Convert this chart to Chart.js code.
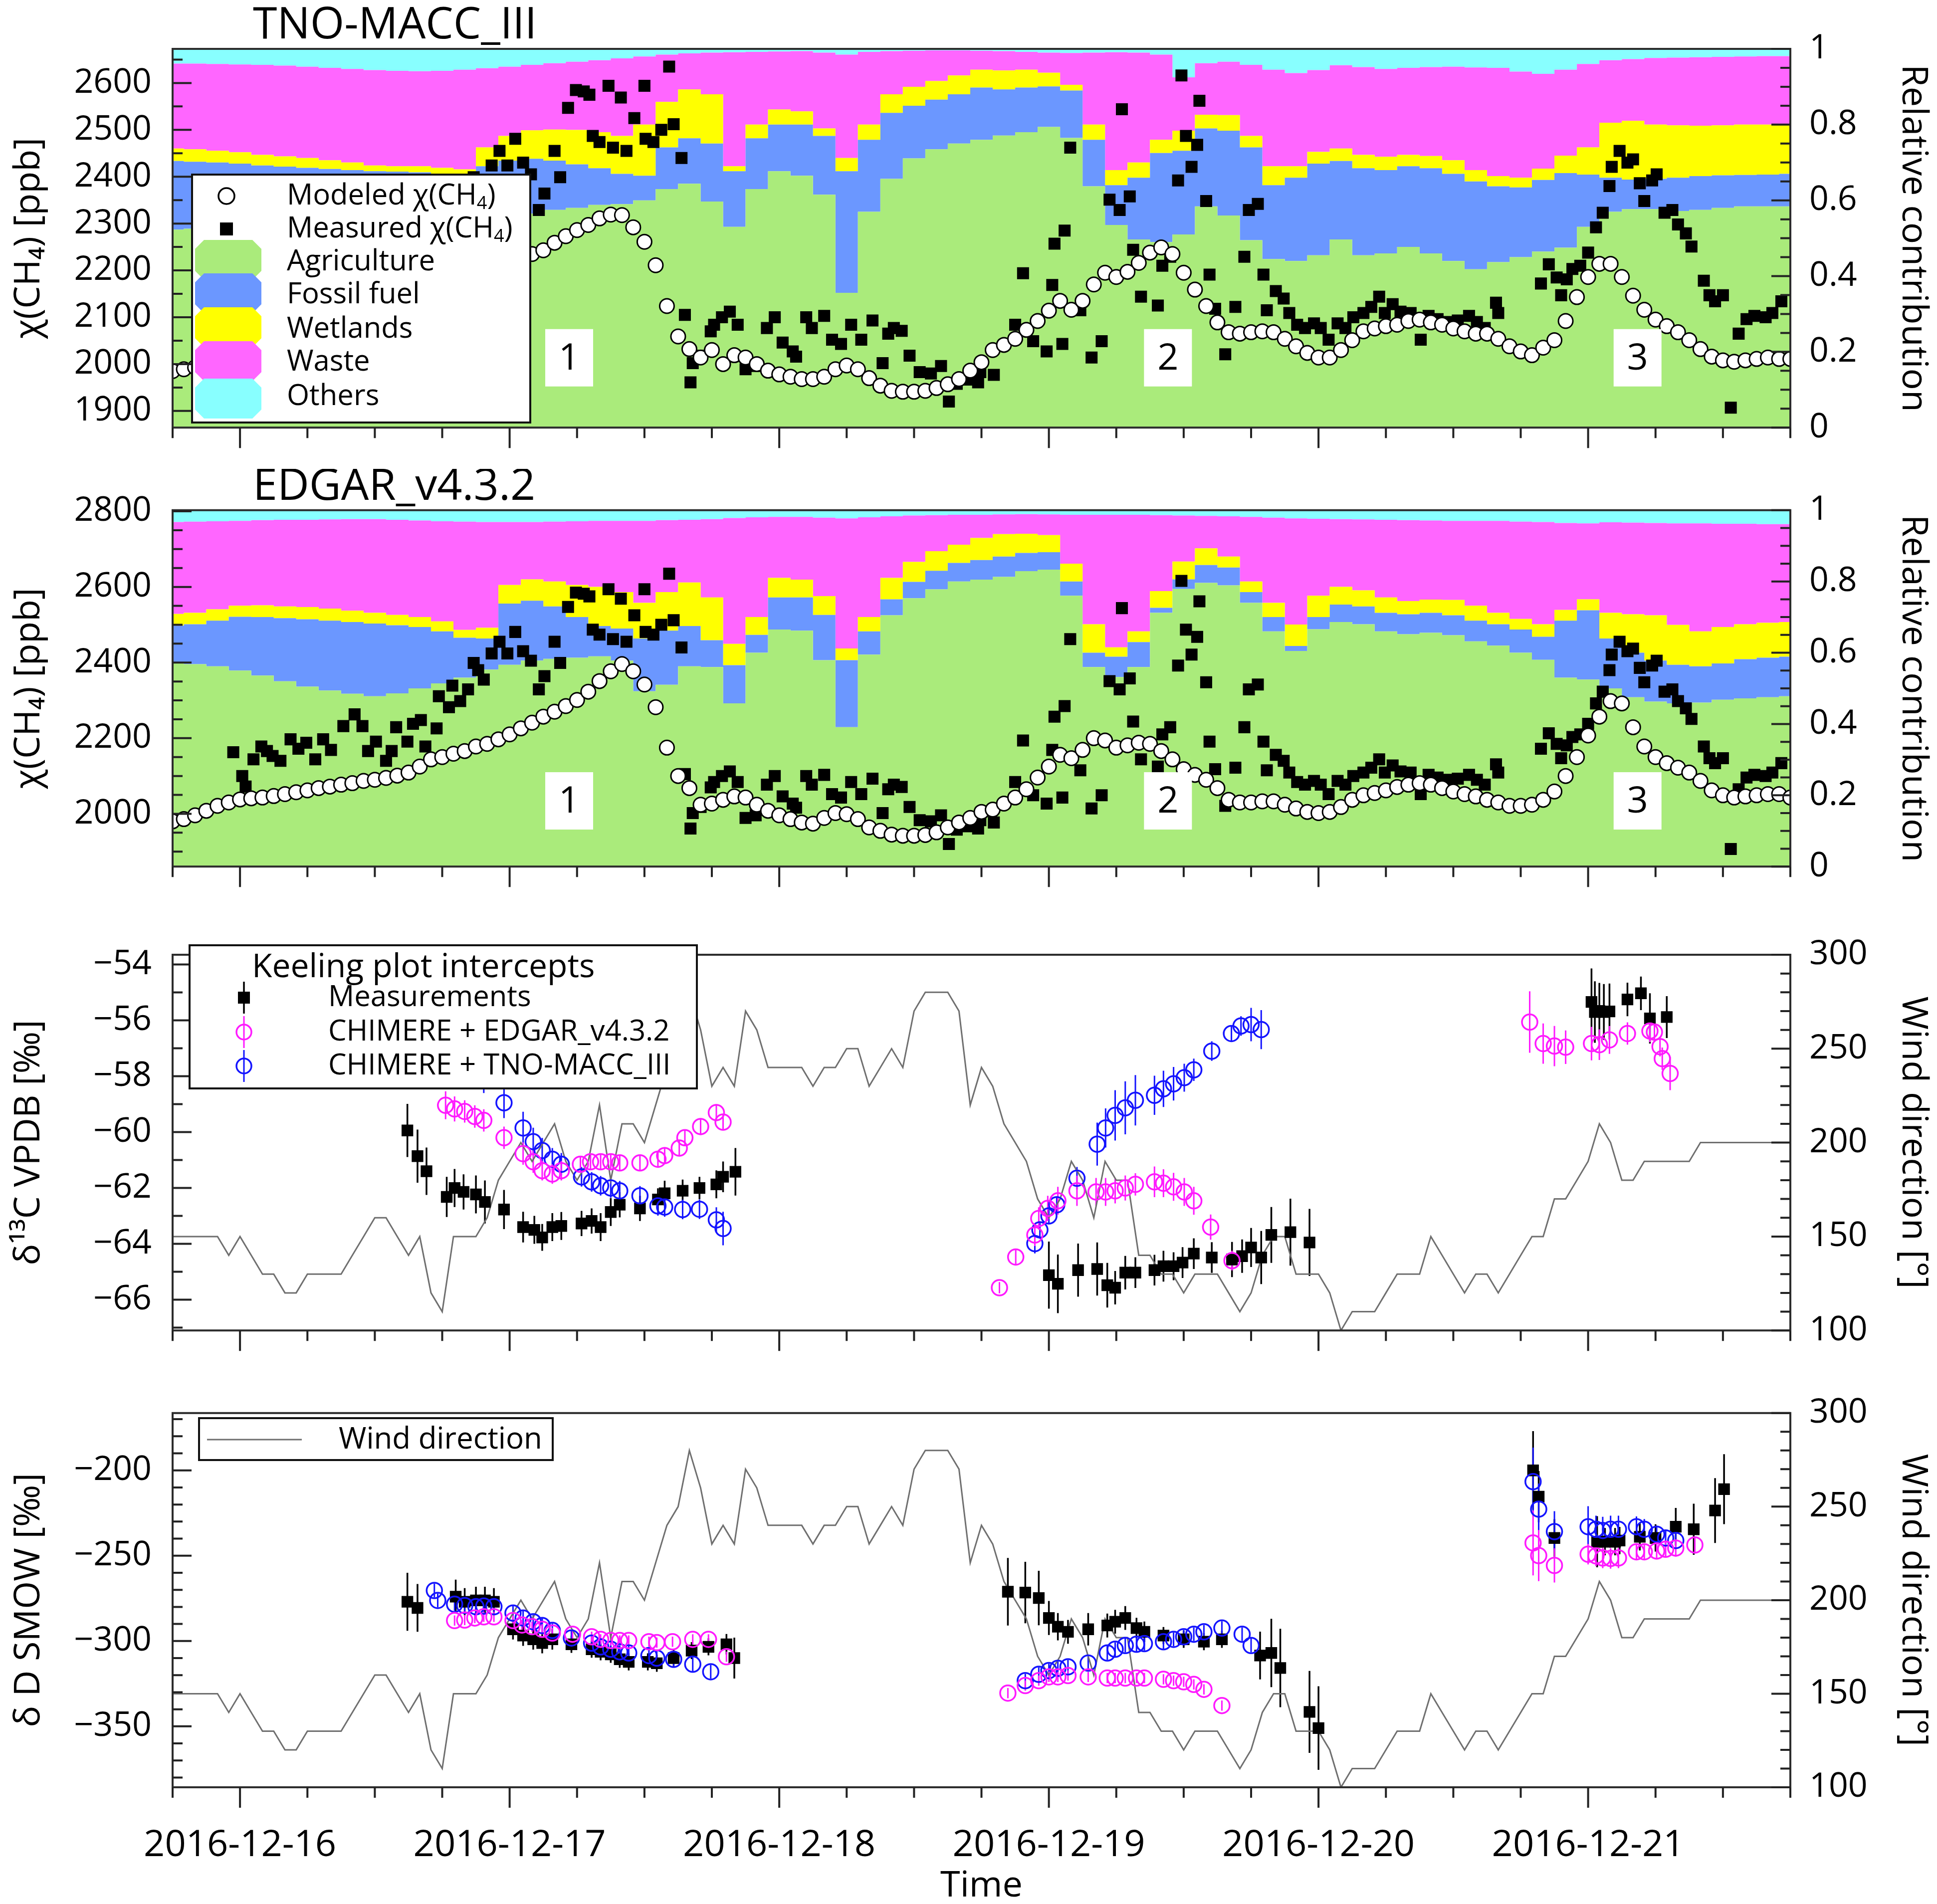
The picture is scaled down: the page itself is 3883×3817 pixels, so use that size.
<!DOCTYPE html>
<html>
<head>
<meta charset="utf-8">
<title>Methane source contributions and isotopic signatures, 2016-12-16 to 2016-12-21</title>
<script src="https://cdn.jsdelivr.net/npm/chart.js@4.4.1/dist/chart.umd.min.js"></script>
<style>
  html, body { margin:0; padding:0; background:#ffffff; }
  body { position:relative; width:3883px; height:3817px; overflow:hidden; }
  canvas { position:absolute; left:0; display:block; }
</style>
</head>
<body>
<canvas id="p1"></canvas>
<canvas id="p2"></canvas>
<canvas id="p3"></canvas>
<canvas id="p4"></canvas>
<script>
// ================= DATA (x = hours since 2016-12-15 18:00) =================
const xTickHours  = [6, 30, 54, 78, 102, 126];
const xTickLabels = ['2016-12-16', '2016-12-17', '2016-12-18', '2016-12-19', '2016-12-20', '2016-12-21'];

// labelled tick values of the y axes
const ticksTNO   = [1900, 2000, 2100, 2200, 2300, 2400, 2500, 2600];
const ticksEDGAR = [2000, 2200, 2400, 2600, 2800];
const ticksRel   = [0, 0.2, 0.4, 0.6, 0.8, 1];
const ticksD13   = [-66, -64, -62, -60, -58, -56, -54];
const ticksDD    = [-350, -300, -250, -200];
const ticksWind  = [100, 150, 200, 250, 300];

const sourceNames = ['Agriculture', 'Fossil fuel', 'Wetlands', 'Waste', 'Others'];
const AREA_STEP_H = 2;   // relative contribution sampled every 2 h (h = 0..144)

// TNO-MACC_III cumulative relative contributions (upper edge of each band)
const tnoAgriTop = [.523,.525,.528,.530,.532,.535,.537,.540,.542,.545,
  .548,.550,.553,.555,.558,.560,.565,.575,.580,.588,
  .590,.600,.630,.644,.597,.530,.630,.677,.665,.615,
  .356,.570,.657,.711,.735,.750,.760,.771,.780,.794,
  .765,.637,.535,.497,.490,.510,.584,.560,.495,.445,
  .440,.455,.497,.455,.460,.477,.460,.440,.418,.437,
  .450,.465,.475,.530,.570,.577,.577,.572,.575,.580,
  .584,.584,.584];
const tnoFossilTop = [.704,.702,.700,.697,.692,.689,.686,.683,.680,.677,
  .676,.674,.670,.664,.690,.705,.710,.705,.695,.685,
  .670,.665,.740,.764,.750,.677,.764,.800,.800,.770,
  .677,.760,.831,.850,.866,.880,.898,.893,.898,.901,
  .890,.760,.640,.660,.725,.731,.790,.784,.740,.640,
  .660,.697,.704,.685,.680,.690,.685,.670,.650,.637,
  .634,.654,.672,.668,.660,.655,.657,.660,.664,.666,
  .667,.668,.670];
const tnoWetTop = [.737,.735,.731,.727,.720,.716,.712,.706,.700,.692,
  .690,.690,.686,.682,.740,.770,.785,.787,.786,.780,
  .770,.800,.860,.893,.880,.690,.800,.840,.835,.790,
  .712,.800,.880,.900,.915,.930,.945,.943,.945,.937,
  .905,.800,.680,.700,.760,.784,.826,.825,.770,.690,
  .690,.728,.737,.720,.715,.720,.717,.706,.680,.664,
  .660,.684,.718,.740,.805,.810,.800,.798,.797,.798,
  .800,.800,.800];
const tnoWasteTop = [.961,.961,.960,.959,.958,.956,.953,.950,.947,.944,
  .942,.941,.942,.945,.949,.953,.958,.962,.966,.970,
  .975,.980,.985,.988,.990,.991,.992,.993,.994,.990,
  .985,.992,.994,.995,.996,.996,.995,.994,.992,.990,
  .989,.990,.991,.990,.985,.925,.962,.966,.958,.945,
  .936,.944,.957,.952,.947,.950,.952,.953,.951,.950,
  .940,.934,.945,.960,.970,.973,.976,.977,.978,.979,
  .980,.981,.981];

// EDGAR_v4.3.2 cumulative relative contributions
const edgAgriTop = [.572,.568,.562,.550,.536,.520,.505,.494,.485,.478,
  .486,.500,.514,.530,.553,.566,.578,.583,.586,.590,
  .578,.492,.510,.562,.560,.458,.600,.665,.662,.579,
  .391,.595,.705,.753,.778,.800,.805,.813,.829,.833,
  .760,.560,.532,.560,.712,.779,.796,.789,.740,.660,
  .605,.666,.686,.680,.660,.652,.656,.649,.632,.620,
  .600,.580,.530,.525,.500,.475,.463,.458,.460,.468,
  .472,.475,.478];
const edgFossilTop = [.676,.680,.690,.701,.700,.697,.694,.690,.686,.682,
  .677,.672,.660,.642,.640,.738,.746,.730,.700,.675,
  .668,.640,.662,.675,.635,.565,.650,.755,.755,.706,
  .579,.660,.750,.799,.830,.852,.860,.870,.880,.882,
  .800,.600,.589,.630,.726,.806,.846,.839,.770,.700,
  .619,.700,.735,.730,.712,.708,.712,.705,.690,.680,
  .665,.645,.690,.719,.640,.600,.578,.566,.562,.570,
  .582,.586,.589];
const edgWetTop = [.709,.712,.722,.732,.733,.730,.728,.724,.718,.712,
  .706,.700,.688,.664,.670,.790,.806,.800,.790,.785,
  .770,.740,.770,.797,.755,.625,.700,.810,.805,.759,
  .612,.700,.810,.855,.885,.903,.922,.933,.934,.930,
  .850,.680,.615,.660,.773,.856,.893,.870,.800,.740,
  .679,.760,.785,.775,.755,.745,.749,.748,.732,.712,
  .695,.680,.720,.750,.712,.708,.705,.678,.660,.672,
  .680,.684,.686];
const edgWasteTop = [.967,.968,.969,.970,.972,.973,.973,.974,.975,.975,
  .973,.971,.969,.968,.967,.967,.967,.968,.969,.970,
  .970,.970,.972,.973,.975,.978,.980,.981,.981,.979,
  .977,.980,.983,.985,.986,.987,.987,.988,.989,.988,
  .987,.987,.987,.987,.986,.985,.984,.983,.981,.979,
  .977,.976,.975,.974,.973,.972,.971,.970,.970,.970,
  .968,.967,.964,.963,.966,.965,.964,.963,.963,.962,
  .962,.961,.961];

// Modeled χ(CH4), hourly (h = 0..144), ppb
const modelTNO = [1985,1989,1993,1997,2001,2005,2008,2011,2014,2017,
  2020,2023,2026,2029,2032,2035,2038,2041,2045,2049,
  2054,2060,2068,2076,2085,2095,2106,2120,2138,2160,
  2185,2212,2235,2243,2259,2273,2286,2297,2311,2319,
  2318,2292,2261,2211,2124,2059,2032,2014,2030,2000,
  2019,2014,2000,1986,1978,1973,1968,1968,1973,1989,
  1997,1989,1970,1954,1943,1941,1941,1943,1949,1957,
  1968,1986,2004,2030,2041,2054,2073,2092,2114,2135,
  2116,2135,2170,2195,2186,2197,2216,2238,2249,2235,
  2195,2159,2124,2089,2068,2065,2068,2070,2068,2054,
  2038,2024,2014,2014,2030,2051,2070,2076,2081,2084,
  2092,2095,2089,2084,2076,2070,2065,2065,2054,2038,
  2027,2019,2035,2051,2092,2143,2186,2214,2214,2186,
  2146,2116,2095,2081,2068,2051,2032,2016,2008,2005,
  2008,2011,2014,2011,2011];
const modelEDGAR = [1980,1986,1996,2008,2021,2030,2038,2041,2043,2047,
  2052,2057,2062,2068,2072,2077,2081,2087,2090,2095,
  2101,2109,2125,2144,2150,2159,2166,2178,2185,2197,
  2210,2226,2241,2257,2270,2285,2301,2323,2351,2377,
  2396,2377,2342,2282,2175,2100,2068,2024,2027,2037,
  2046,2043,2024,2008,1996,1986,1977,1974,1989,2002,
  1999,1986,1964,1955,1945,1942,1942,1944,1951,1964,
  1977,1989,2005,2011,2027,2043,2065,2096,2125,2156,
  2147,2169,2200,2194,2175,2181,2188,2185,2166,2144,
  2118,2103,2090,2068,2037,2030,2030,2033,2033,2024,
  2014,2005,2002,2005,2018,2037,2049,2055,2062,2071,
  2077,2081,2077,2068,2059,2052,2046,2037,2030,2021,
  2021,2024,2037,2059,2100,2150,2207,2257,2298,2292,
  2229,2178,2150,2134,2122,2109,2087,2062,2049,2043,
  2046,2049,2052,2052,2043];

// Measured χ(CH4)
const measH = [5.4,6.2,6.5,7.2,7.9,8.4,8.9,9.6,10.5,11.2,
  11.9,12.7,13.4,14.1,15.2,16.2,16.9,17.4,18.1,19.0,
  19.5,19.9,20.9,21.4,22.1,22.5,23.5,23.7,24.6,24.9,
  25.6,26.3,26.8,27.2,27.7,28.4,29.1,29.8,30.5,31.2,
  31.9,32.6,33.1,34.0,34.5,35.2,35.9,36.6,37.1,37.4,
  38.0,38.8,39.2,39.9,40.4,41.1,42.0,42.1,42.8,43.5,
  44.2,44.6,45.3,45.6,46.1,46.3,47.0,47.9,48.2,48.9,
  49.6,50.3,51.0,51.9,52.9,53.6,54.3,55.2,55.5,56.4,
  56.9,58.0,58.7,59.5,60.4,61.3,62.3,63.2,63.7,64.2,
  64.9,65.6,66.5,67.5,68.4,69.1,69.8,70.7,71.7,71.9,
  73.1,75.0,75.7,76.6,77.8,78.3,78.5,79.2,79.4,79.9,
  80.8,81.8,82.7,83.4,84.3,84.5,85.2,85.5,86.2,87.7,
  88.1,88.8,89.5,89.8,90.2,90.7,91.2,91.4,92.0,92.3,
  92.8,93.7,94.6,95.4,95.8,96.6,97.1,97.4,98.2,98.9,
  99.4,100.1,100.8,101.6,102.2,102.9,103.7,104.4,105.1,106.0,
  106.7,107.4,107.9,108.6,109.3,110.2,111.1,111.8,112.6,113.5,
  114.4,115.4,116.1,116.8,117.8,118.0,121.8,122.5,123.2,123.6,
  124.1,124.6,125.3,126.0,126.7,127.3,127.9,128.1,128.8,129.5,
  130.0,130.6,131.0,131.7,132.1,132.8,133.5,134.0,134.7,135.2,
  136.3,136.8,137.3,138.0,138.7,139.4,140.1,140.8,141.8,142.4,
  143.2];
const measCH4 = [2163,2100,2072,2144,2178,2166,2153,2140,2197,2172,
  2188,2144,2197,2169,2232,2263,2232,2166,2191,2140,
  2166,2229,2191,2238,2248,2178,2226,2311,2282,2339,
  2298,2329,2399,2380,2355,2424,2455,2424,2481,2430,
  2405,2329,2364,2455,2399,2547,2585,2582,2575,2487,
  2474,2594,2462,2569,2455,2525,2594,2481,2474,2500,
  2635,2512,2440,2105,1961,2002,2018,2070,2084,2100,
  2112,2084,1989,1996,2077,2100,2046,2027,2016,2100,
  2077,2103,2052,2043,2084,2052,2093,2002,2065,2077,
  2071,2018,1983,1980,1996,1920,1958,1967,1961,1983,
  1977,2084,2194,2049,2027,2169,2257,2043,2285,2462,
  2115,2014,2049,2351,2329,2544,2358,2244,2144,2125,
  2210,2229,2392,2616,2487,2421,2468,2562,2348,2191,
  2118,2021,2122,2229,2329,2342,2191,2115,2156,2140,
  2109,2084,2077,2087,2077,2052,2087,2077,2100,2109,
  2122,2144,2109,2128,2112,2109,2052,2103,2096,2090,
  2093,2103,2090,2077,2131,2109,2172,2213,2185,2147,
  2181,2203,2210,2238,2292,2323,2380,2421,2455,2430,
  2437,2386,2348,2392,2405,2323,2329,2298,2279,2251,
  2178,2147,2134,2147,1907,2065,2096,2103,2100,2109,
  2134];

// Wind direction, hourly (h = 0..144), degrees
const windDir = [150,150,150,150,150,140,150,140,130,130,
  120,120,130,130,130,130,140,150,160,160,
  150,140,150,120,110,150,150,150,160,180,
  190,200,190,200,210,190,180,190,220,180,
  210,210,200,220,240,250,280,260,230,240,
  230,270,260,240,240,240,240,230,240,240,
  250,250,230,240,250,240,270,280,280,280,
  270,220,240,230,210,200,190,170,160,170,
  190,180,160,190,180,180,140,140,130,130,
  120,130,130,130,120,110,120,140,150,150,
  130,130,130,120,100,110,110,110,120,130,
  130,130,150,140,130,120,130,130,120,130,
  140,150,150,170,170,180,190,210,200,180,
  180,190,190,190,190,190,200,200,200,200,
  200,200,200,200,200];

// Keeling plot intercepts, δ13C (‰ VPDB)
const d13MeasH = [20.9,21.8,22.6,24.4,25.1,25.9,27.0,27.8,29.5,31.2,32.2,32.9,33.8,34.6,36.4,37.3,38.1,39.0,39.8,41.6,43.2,43.8,45.4,46.9,48.4,49.0,50.1,
  78.0,78.8,80.6,82.3,83.2,83.9,84.8,85.7,87.4,88.2,89.1,89.9,90.9,92.5,94.3,95.2,96.0,96.9,97.8,99.5,101.2,
  126.3,126.6,127.0,127.4,127.9,129.5,130.7,131.5,133.0];
const d13MeasV = [-59.94,-60.86,-61.40,-62.32,-62.00,-62.14,-62.23,-62.50,-62.77,-63.40,-63.50,-63.77,-63.40,-63.36,-63.27,-63.18,-63.40,-62.86,-62.60,-62.73,-62.41,-62.19,-62.10,-62.00,-61.87,-61.60,-61.42,
  -65.12,-65.43,-64.94,-64.90,-65.48,-65.57,-65.03,-65.03,-64.94,-64.80,-64.80,-64.67,-64.35,-64.49,-64.56,-64.44,-64.13,-64.49,-63.68,-63.58,-63.95,
  -55.34,-55.70,-55.66,-55.70,-55.68,-55.25,-55.03,-55.93,-55.88];
const d13MeasE = [0.95,0.95,0.85,0.72,0.68,0.63,0.68,0.77,0.70,0.55,0.50,0.48,0.50,0.50,0.45,0.45,0.50,0.50,0.45,0.45,0.40,0.45,0.40,0.40,0.50,0.55,0.85,
  1.2,1.05,0.95,0.95,0.8,0.6,0.6,0.55,0.55,0.55,0.5,0.55,0.55,0.55,0.63,0.6,0.7,0.95,1.0,1.2,1.2,
  1.2,1.1,1.0,1.0,1.0,0.6,0.6,0.9,0.75];
const d13EdgH = [24.3,25.1,26.0,26.9,27.7,29.5,31.2,32.1,32.9,33.8,34.6,36.3,37.2,38.1,39.0,39.8,41.6,43.2,43.8,45.1,45.6,47.0,48.4,49.0,
  73.6,75.05,76.75,77.1,77.9,78.8,80.5,82.2,83.05,83.9,84.8,85.7,87.4,88.2,89.1,90.05,90.9,92.4,94.3,
  120.8,122.0,123.0,124.0,126.3,127.0,127.9,129.5,131.5,131.9,132.4,132.6,133.3];
const d13EdgV = [-59.04,-59.17,-59.26,-59.44,-59.58,-60.20,-60.77,-61.06,-61.38,-61.50,-61.38,-61.15,-61.06,-61.06,-61.06,-61.10,-61.10,-60.97,-60.84,-60.57,-60.20,-59.80,-59.30,-59.64,
  -65.57,-64.47,-63.68,-63.09,-62.73,-62.46,-62.10,-62.14,-62.14,-62.10,-62.00,-61.87,-61.78,-61.83,-61.96,-62.14,-62.46,-63.40,-64.60,
  -56.06,-56.83,-56.92,-56.96,-56.83,-56.87,-56.70,-56.47,-56.38,-56.42,-56.94,-57.37,-57.90];
const d13EdgE = [0.5,0.45,0.4,0.4,0.4,0.4,0.4,0.4,0.35,0.35,0.35,0.3,0.3,0.3,0.3,0.3,0.3,0.3,0.3,0.3,0.3,0.3,0.3,0.3,
  0.2,0.3,0.4,0.4,0.45,0.5,0.54,0.5,0.5,0.45,0.45,0.4,0.55,0.5,0.5,0.5,0.5,0.45,0.35,
  1.1,0.72,0.72,0.6,0.6,0.55,0.5,0.4,0.4,0.35,0.35,0.4,0.6];
const d13TnoH = [27.7,29.5,31.2,32.1,32.9,33.8,34.6,36.4,37.3,38.1,39.0,39.8,41.6,43.2,43.8,45.4,46.9,48.4,49.0,
  76.75,77.2,78.0,78.7,80.5,82.3,83.05,83.9,84.8,85.7,87.4,88.2,89.1,90.05,90.9,92.5,94.25,95.1,96.0,96.9];
const d13TnoV = [-57.95,-58.95,-59.85,-60.34,-60.66,-60.97,-61.15,-61.60,-61.78,-61.92,-62.00,-62.10,-62.28,-62.64,-62.68,-62.77,-62.76,-63.14,-63.45,
  -63.99,-63.50,-63.00,-62.60,-61.65,-60.43,-59.85,-59.40,-59.13,-58.86,-58.68,-58.45,-58.27,-58.05,-57.77,-57.10,-56.47,-56.20,-56.15,-56.33];
const d13TnoE = [0.65,0.55,0.58,0.5,0.45,0.4,0.4,0.35,0.35,0.35,0.35,0.35,0.35,0.35,0.35,0.35,0.35,0.45,0.6,
  0.35,0.3,0.3,0.3,0.4,0.77,0.7,0.9,0.95,0.9,0.7,0.65,0.6,0.5,0.4,0.35,0.3,0.35,0.6,0.7];

// Keeling plot intercepts, δD (‰ SMOW)
const dDMeasH = [20.9,21.8,25.2,26.0,27.0,27.8,28.6,30.3,31.2,32.1,32.9,33.8,35.5,37.3,38.1,39.0,39.8,40.6,42.3,43.1,44.6,46.2,47.7,49.3,50.0,
  74.35,75.9,77.1,78.0,78.8,79.7,81.5,83.2,83.9,84.8,85.8,86.5,88.2,90.0,91.8,93.4,96.8,97.8,98.6,101.2,102.0,
  121.1,121.6,123.0,126.8,127.5,128.4,128.8,130.6,132.0,133.8,135.4,137.3,138.1];
const dDMeasV = [-277,-280.6,-274,-277,-276.2,-276.2,-277,-293.1,-296.8,-299,-301.2,-299,-301.9,-304.8,-306.3,-307.8,-310.7,-312.2,-312.2,-313,-310,-305.6,-303.4,-301.9,-310,
  -271.1,-271.6,-274.8,-286.5,-291.6,-294.6,-293.1,-290.9,-288.7,-286.5,-292.4,-294.6,-296.8,-299,-300.4,-299,-308.5,-307,-315.8,-341.5,-351,
  -200,-215.4,-239.6,-241.8,-241.8,-241.8,-241.1,-238.9,-239.6,-233,-234.5,-223.5,-211];
const dDMeasE = [17,14,10,8,8,8,8,6,6,6,6,6,5,5,5,5,5,5,5,5,5,5,5,6,12,
  19.8,18,16,10,8,7,9.5,7,7,7,6,6,5,5,5,5,14,20,23,24,24.5,
  23,15,11,15,8,8,8,8,8,11,15,19,20.5];
const dDEdgH = [25.1,26.0,26.9,27.7,28.6,30.3,31.1,32.0,32.9,33.8,35.6,37.3,38.1,39.0,39.8,40.6,42.4,43.1,44.5,46.3,47.7,49.3,
  74.35,75.9,77.1,78.0,78.8,79.7,81.5,83.2,83.9,84.8,85.8,86.5,88.2,89.1,90.0,90.9,91.8,93.4,
  121.1,121.6,123.0,126.0,126.7,127.3,128.0,128.7,130.3,131.0,132.1,132.9,133.8,135.5];
const dDEdgV = [-288,-287.7,-286.5,-285.8,-285.8,-288,-290.6,-291.6,-293.1,-295.3,-296,-297.5,-299,-299.7,-299.7,-299.7,-300.4,-300.9,-300.4,-299,-299,-309.2,
  -330.5,-326.1,-323.2,-321,-321,-320.2,-321,-321.7,-321.7,-321.7,-321.7,-321.7,-322.4,-323.2,-323.9,-325.4,-328.3,-337.8,
  -242.5,-249.9,-255.7,-249.1,-250.1,-251.3,-251.6,-251.3,-247.7,-247.7,-247.2,-246.2,-245.5,-243.7];
const dDEdgE = [3,3,3,3,3,3,3,3,3,3,3,3,3,3,3,3,3,3,3,3,3,3,
  3,3,3,3,3,3,3,3,3,3,3,3,3,3,3,3,3,3,
  19,15,10,6,6,6,6,6,5,5,5,5,5,5];
const dDTnoH = [23.3,23.6,25.1,26.0,27.0,27.7,28.6,30.3,31.2,32.1,32.9,33.8,35.5,37.3,38.1,39.0,39.8,40.6,42.4,43.1,44.6,46.3,47.9,
  75.9,77.1,78.0,78.8,79.7,81.5,83.2,83.9,84.8,85.8,86.5,88.2,89.1,90.0,90.9,91.8,93.4,95.2,96.0,
  121.1,121.6,123.0,126.0,126.7,127.3,128.0,128.7,130.3,131.0,132.1,132.9,133.8];
const dDTnoV = [-270.4,-276.2,-278.4,-279.2,-279.9,-279.5,-279.9,-283.6,-286.5,-288.7,-290.9,-293.8,-298.2,-301.2,-303.4,-304.8,-306.3,-307,-308.5,-310,-310.7,-313.6,-318,
  -323.2,-319.5,-317.3,-316,-315.1,-312.9,-307,-304.8,-302.6,-301.9,-301.5,-300.4,-299,-297.5,-296,-294.6,-292.4,-296,-302.6,
  -206.6,-222.7,-235.9,-233,-234.5,-235.2,-234.5,-234.5,-233,-234.5,-237.4,-239.6,-241.1];
const dDTnoE = [4,4,4,4,4,4,4,4,4,4,4,4,4,4,4,4,4,4,4,4,4,4,4,
  4,4,4,4,4,4,4,4,4,4,4,4,4,4,4,4,4,4,4,
  20,15,12,12,8,8,8,8,6,6,5,5,5];

// Event markers
const eventLabels = ['1', '2', '3'];
const eventHours  = [35.3, 88.6, 130.4];

// ================= STYLE =================
const F = '"Open Sans","Noto Sans","DejaVu Sans",sans-serif';
const C = { agri:'#aaeb7b', fossil:'#6b97ff', wet:'#ffff00', waste:'#ff66ff', others:'#88ffff',
            edg:'#ff1aff', tno:'#1414ff', wind:'#6f6f6f' };
const W = 3883;
const LEFT_W = 346, RIGHT_W = W - 3589;

const pts = (xs, ys) => xs.map((x, i) => ({ x: x, y: ys[i] }));
const hourly = (ys) => ys.map((y, i) => ({ x: i, y: y }));
const stepped = (ys) => ys.map((y, i) => ({ x: i * AREA_STEP_H, y: y }));
const fmt = (v) => String(Math.round(v * 1000) / 1000).replace('-', '\u2212');

function chamfer(ctx, x, y, w, h, c) {
  ctx.beginPath();
  ctx.moveTo(x + c, y); ctx.lineTo(x + w - c, y); ctx.lineTo(x + w, y + c);
  ctx.lineTo(x + w, y + h - c); ctx.lineTo(x + w - c, y + h); ctx.lineTo(x + c, y + h);
  ctx.lineTo(x, y + h - c); ctx.lineTo(x, y + c); ctx.closePath(); ctx.fill();
}
function rich(ctx, parts, x, y, size) {
  let cx = x;
  for (const p of parts) {
    const s = (p.sub || p.sup) ? Math.round(size * 0.62) : size;
    ctx.font = s + 'px ' + F;
    const dy = p.sub ? size * 0.28 : (p.sup ? -size * 0.3 : 0);
    ctx.fillText(p.t, cx, y + dy);
    cx += ctx.measureText(p.t).width;
  }
}

function drawCh4Legend(ctx) {
  ctx.fillStyle = '#fff'; ctx.fillRect(385, 350, 678, 497);
  ctx.lineWidth = 4; ctx.strokeStyle = '#111'; ctx.strokeRect(385, 350, 678, 497);
  const sw = [[C.agri, 521], [C.fossil, 588], [C.wet, 656], [C.waste, 724], [C.others, 799]];
  sw.forEach(([c, cy]) => { ctx.fillStyle = c; chamfer(ctx, 391, cy - 40, 133, 80, 18); });
  ctx.beginPath(); ctx.arc(454, 393, 16, 0, 2 * Math.PI);
  ctx.fillStyle = '#fff'; ctx.fill(); ctx.lineWidth = 3.5; ctx.strokeStyle = '#000'; ctx.stroke();
  ctx.fillStyle = '#000'; ctx.fillRect(441, 446, 26, 26);
  ctx.textAlign = 'left'; ctx.textBaseline = 'middle'; ctx.fillStyle = '#000';
  rich(ctx, [{t:'Modeled \u03c7(CH'}, {t:'4', sub:true}, {t:')'}], 575, 393, 58);
  rich(ctx, [{t:'Measured \u03c7(CH'}, {t:'4', sub:true}, {t:')'}], 575, 459, 58);
  const rows = [525, 591, 660, 726, 795];
  sourceNames.forEach((n, i) => rich(ctx, [{t:n}], 575, rows[i], 58));
}
function drawKeelingLegend(ctx) {
  ctx.fillStyle = '#fff'; ctx.fillRect(380, 75, 1017, 287);
  ctx.lineWidth = 4; ctx.strokeStyle = '#111'; ctx.strokeRect(380, 75, 1017, 287);
  ctx.textAlign = 'left'; ctx.textBaseline = 'middle'; ctx.fillStyle = '#000';
  rich(ctx, [{t:'Keeling plot intercepts'}], 505, 120, 66);
  const mx = 489;
  ctx.strokeStyle = '#000'; ctx.lineWidth = 3.5;
  ctx.beginPath(); ctx.moveTo(mx, 148); ctx.lineTo(mx, 212); ctx.stroke();
  ctx.fillStyle = '#000'; ctx.fillRect(mx - 12, 168, 24, 24);
  [[C.edg, 249], [C.tno, 317]].forEach(([c, y]) => {
    ctx.strokeStyle = c; ctx.lineWidth = 3;
    ctx.beginPath(); ctx.moveTo(mx, y - 32); ctx.lineTo(mx, y + 32); ctx.stroke();
    ctx.lineWidth = 3.5;
    ctx.beginPath(); ctx.arc(mx, y, 15, 0, 2 * Math.PI); ctx.stroke();
  });
  ctx.fillStyle = '#000';
  rich(ctx, [{t:'Measurements'}], 658, 180, 58);
  rich(ctx, [{t:'CHIMERE + EDGAR_v4.3.2'}], 658, 249, 58);
  rich(ctx, [{t:'CHIMERE + TNO-MACC_III'}], 658, 317, 58);
}
function drawWindLegend(ctx) {
  ctx.fillStyle = '#fff'; ctx.fillRect(399, 93, 709, 84);
  ctx.lineWidth = 4; ctx.strokeStyle = '#111'; ctx.strokeRect(399, 93, 709, 84);
  ctx.strokeStyle = C.wind; ctx.lineWidth = 3;
  ctx.beginPath(); ctx.moveTo(415, 136); ctx.lineTo(605, 136); ctx.stroke();
  ctx.textAlign = 'left'; ctx.textBaseline = 'middle'; ctx.fillStyle = '#000';
  rich(ctx, [{t:'Wind direction'}], 679, 137, 60);
}

const decorPlugin = {
  id: 'decor',
  beforeDatasetsDraw(chart, args, o) {
    const ctx = chart.ctx, xs = chart.scales.x;
    (o.errorBars || []).forEach(eb => {
      const ys = chart.scales.y;
      ctx.save();
      ctx.strokeStyle = eb.color; ctx.lineWidth = eb.width;
      ctx.beginPath();
      eb.h.forEach((h, i) => {
        const px = xs.getPixelForValue(h);
        ctx.moveTo(px, ys.getPixelForValue(eb.v[i] - eb.e[i]));
        ctx.lineTo(px, ys.getPixelForValue(eb.v[i] + eb.e[i]));
      });
      ctx.stroke();
      ctx.restore();
    });
  },
  afterDatasetsDraw(chart, args, o) {
    const ctx = chart.ctx, a = chart.chartArea, xs = chart.scales.x;
    ctx.save();
    (o.boxes || []).forEach(b => {
      const px = xs.getPixelForValue(b.h);
      const py = chart.scales.yR.getPixelForValue(b.v);
      ctx.fillStyle = '#fff'; ctx.fillRect(px - 48, py - 57, 96, 115);
      ctx.fillStyle = '#000'; ctx.font = '74px ' + F;
      ctx.textAlign = 'center'; ctx.textBaseline = 'middle';
      ctx.fillText(b.text, px, py + 3);
    });
    ctx.strokeStyle = '#2d2d2d'; ctx.lineWidth = 4;
    ctx.strokeRect(a.left, a.top, a.right - a.left, a.bottom - a.top);
    const tk = o.ticks;
    ctx.strokeStyle = '#222'; ctx.lineWidth = 4;
    ctx.beginPath();
    const vTicks = (scale, step, major, side) => {
      const n0 = Math.ceil(scale.min / step - 1e-9), n1 = Math.floor(scale.max / step + 1e-9);
      for (let n = n0; n <= n1; n++) {
        const v = n * step;
        const r = v / major;
        const isMaj = Math.abs(r - Math.round(r)) < 1e-6;
        const len = isMaj ? 38 : 20;
        const py = scale.getPixelForValue(v);
        if (side === 'left') { ctx.moveTo(a.left, py); ctx.lineTo(a.left + len, py); }
        else { ctx.moveTo(a.right, py); ctx.lineTo(a.right - len, py); }
      }
    };
    vTicks(chart.scales.y, tk.left[0], tk.left[1], 'left');
    vTicks(chart.scales[tk.rightAxis], tk.right[0], tk.right[1], 'right');
    for (let n = 0; n <= 24; n++) {
      const h = n * 6;
      const isMaj = ((h - 6) % 24 + 24) % 24 === 0;
      const px = xs.getPixelForValue(h);
      ctx.moveTo(px, a.bottom); ctx.lineTo(px, a.bottom + (isMaj ? 41 : 21));
    }
    ctx.stroke();
    if (o.title) {
      ctx.fillStyle = '#000'; ctx.font = '88px ' + F;
      ctx.textAlign = 'left'; ctx.textBaseline = 'alphabetic';
      ctx.fillText(o.title, 507, a.top - 21);
    }
    if (o.legend === 'ch4') drawCh4Legend(ctx);
    if (o.legend === 'keeling') drawKeelingLegend(ctx);
    if (o.legend === 'wind') drawWindLegend(ctx);
    ctx.restore();
  }
};

function yAxis(pos, min, max, tickValues, title) {
  return {
    type: 'linear', position: pos, min: min, max: max,
    afterFit: (s) => { s.width = pos === 'left' ? LEFT_W : RIGHT_W; },
    afterBuildTicks: (s) => { s.ticks = tickValues.map(v => ({ value: v })); },
    grid: { display: false, drawTicks: false }, border: { display: false },
    ticks: { autoSkip: false, padding: pos === 'left' ? 42 : 38, color: '#000',
             font: { family: F, size: 68 }, callback: (v) => fmt(v) },
    title: { display: true, text: title, color: '#000', font: { family: F, size: 72 },
             padding: { top: pos === 'left' ? 15 : 5, bottom: 0 } }
  };
}
const xHidden = { type: 'linear', min: 0, max: 144, display: false };
const xShown = {
  type: 'linear', position: 'bottom', min: 0, max: 144,
  afterFit: (s) => { s.height = 234; },
  afterBuildTicks: (s) => { s.ticks = xTickHours.map(v => ({ value: v })); },
  grid: { display: false, drawTicks: false }, border: { display: false },
  ticks: { autoSkip: false, maxRotation: 0, minRotation: 0, padding: 73, color: '#000',
           font: { family: F, size: 74 }, callback: (v, i) => xTickLabels[i] },
  title: { display: true, text: 'Time', color: '#000', font: { family: F, size: 72, lineHeight: 1.0 },
           padding: { top: 0, bottom: 0 } }
};

function areaSets(agri, fossil, wet, waste) {
  const base = { type: 'line', yAxisID: 'yR', pointRadius: 0, borderWidth: 0, borderColor: 'rgba(0,0,0,0)',
                 stepped: 'middle', tension: 0, order: 10 };
  return [
    Object.assign({}, base, { label: sourceNames[0], data: stepped(agri),   fill: 'origin', backgroundColor: C.agri }),
    Object.assign({}, base, { label: sourceNames[1], data: stepped(fossil), fill: '-1', backgroundColor: C.fossil }),
    Object.assign({}, base, { label: sourceNames[2], data: stepped(wet),    fill: '-1', backgroundColor: C.wet }),
    Object.assign({}, base, { label: sourceNames[3], data: stepped(waste),  fill: '-1', backgroundColor: C.waste }),
    Object.assign({}, base, { label: sourceNames[4], data: stepped(waste),  fill: 'end', backgroundColor: C.others })
  ];
}
function ch4Sets(model) {
  return [
    { label: 'Measured \u03c7(CH4)', data: pts(measH, measCH4), yAxisID: 'y', pointStyle: 'rect',
      pointRadius: 17, backgroundColor: '#000', borderWidth: 0, order: 2 },
    { label: 'Modeled \u03c7(CH4)', data: hourly(model), yAxisID: 'y', pointStyle: 'circle',
      pointRadius: 14.5, backgroundColor: '#fff', borderColor: '#000', borderWidth: 3, order: 1 }
  ];
}
function isoSets(mH, mV, tH, tV, eH, eV) {
  return [
    { type: 'line', label: 'Wind direction', data: hourly(windDir), yAxisID: 'yR', borderColor: C.wind,
      borderWidth: 3, pointRadius: 0, fill: false, tension: 0, order: 5 },
    { label: 'Measurements', data: pts(mH, mV), yAxisID: 'y', pointStyle: 'rect', pointRadius: 16.5,
      backgroundColor: '#000', borderWidth: 0, order: 3 },
    { label: 'CHIMERE + TNO-MACC_III', data: pts(tH, tV), yAxisID: 'y', pointStyle: 'circle', pointRadius: 15.5,
      backgroundColor: 'rgba(0,0,0,0)', borderColor: C.tno, borderWidth: 3.5, order: 2 },
    { label: 'CHIMERE + EDGAR_v4.3.2', data: pts(eH, eV), yAxisID: 'y', pointStyle: 'circle', pointRadius: 15.5,
      backgroundColor: 'rgba(0,0,0,0)', borderColor: C.edg, borderWidth: 3.5, order: 1 }
  ];
}

function makeChart(id, top, height, padTop, padBottom, datasets, scales, decor) {
  const cv = document.getElementById(id);
  cv.width = W; cv.height = height;
  cv.style.top = top + 'px'; cv.style.width = W + 'px'; cv.style.height = height + 'px';
  return new Chart(cv, {
    type: 'scatter',
    data: { datasets: datasets },
    options: {
      responsive: false, animation: false, devicePixelRatio: 1, events: [],
      layout: { padding: { left: 0, right: 0, top: padTop, bottom: padBottom } },
      plugins: { legend: { display: false }, tooltip: { enabled: false }, decor: decor },
      scales: scales
    },
    plugins: [decorPlugin]
  });
}

const boxes = eventLabels.map((t, i) => ({ text: t, h: eventHours[i], v: 0.185 }));

// Panel 1: TNO-MACC_III
makeChart('p1', 0, 940, 98, 79,
  areaSets(tnoAgriTop, tnoFossilTop, tnoWetTop, tnoWasteTop).concat(ch4Sets(modelTNO)),
  { x: xHidden,
    y: yAxis('left', 1864.5, 2672.8, ticksTNO, '\u03c7(CH\u2084) [ppb]'),
    yR: yAxis('right', 0, 1, ticksRel, 'Relative contribution') },
  { title: 'TNO-MACC_III', boxes: boxes, legend: 'ch4',
    ticks: { left: [50, 100], right: [0.05, 0.2], rightAxis: 'yR' } });

// Panel 2: EDGAR_v4.3.2
makeChart('p2', 940, 880, 65, 52,
  areaSets(edgAgriTop, edgFossilTop, edgWetTop, edgWasteTop).concat(ch4Sets(modelEDGAR)),
  { x: xHidden,
    y: yAxis('left', 1860.5, 2803, ticksEDGAR, '\u03c7(CH\u2084) [ppb]'),
    yR: yAxis('right', 0, 1, ticksRel, 'Relative contribution') },
  { title: 'EDGAR_v4.3.2', boxes: boxes,
    ticks: { left: [50, 200], right: [0.05, 0.2], rightAxis: 'yR' } });

// Panel 3: δ13C
makeChart('p3', 1820, 930, 94, 74,
  isoSets(d13MeasH, d13MeasV, d13TnoH, d13TnoV, d13EdgH, d13EdgV),
  { x: xHidden,
    y: yAxis('left', -67.1, -53.65, ticksD13, '\u03b4\u00b9\u00b3C VPDB [\u2030]'),
    yR: yAxis('right', 100, 300, ticksWind, 'Wind direction [\u00b0]') },
  { legend: 'keeling',
    errorBars: [
      { h: d13MeasH, v: d13MeasV, e: d13MeasE, color: '#000', width: 3.5 },
      { h: d13TnoH, v: d13TnoV, e: d13TnoE, color: C.tno, width: 3 },
      { h: d13EdgH, v: d13EdgV, e: d13EdgE, color: C.edg, width: 3 } ],
    ticks: { left: [1, 2], right: [10, 50], rightAxis: 'yR' } });

// Panel 4: δD
makeChart('p4', 2750, 1067, 71, 0,
  isoSets(dDMeasH, dDMeasV, dDTnoH, dDTnoV, dDEdgH, dDEdgV),
  { x: xShown,
    y: yAxis('left', -385.7, -166.4, ticksDD, '\u03b4 D SMOW [\u2030]'),
    yR: yAxis('right', 100, 300, ticksWind, 'Wind direction [\u00b0]') },
  { legend: 'wind',
    errorBars: [
      { h: dDMeasH, v: dDMeasV, e: dDMeasE, color: '#000', width: 3.5 },
      { h: dDTnoH, v: dDTnoV, e: dDTnoE, color: C.tno, width: 3 },
      { h: dDEdgH, v: dDEdgV, e: dDEdgE, color: C.edg, width: 3 } ],
    ticks: { left: [10, 50], right: [10, 50], rightAxis: 'yR' } });
</script>
</body>
</html>
